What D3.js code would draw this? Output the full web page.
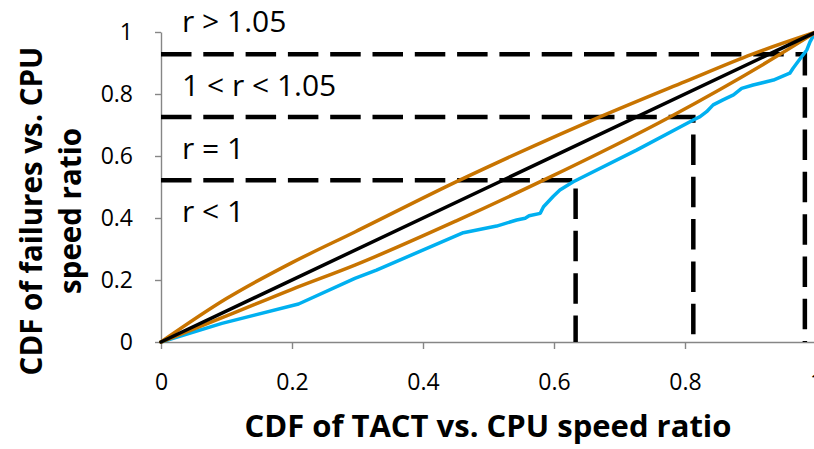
<!DOCTYPE html>
<html>
<head>
<meta charset="utf-8">
<script src="https://cdn.jsdelivr.net/npm/d3@7"></script>
<style>
  html, body { margin: 0; padding: 0; background: #fff; overflow: hidden; }
  svg { display: block; }
  text { font-family: "Open Sans", "Noto Sans", sans-serif; }
</style>
</head>
<body>
<svg id="chart" width="814" height="449"></svg>
<script>
// Tick values and labels
const tickValues = [0, 0.2, 0.4, 0.6, 0.8, 1];
const tickLabels = ["0", "0.2", "0.4", "0.6", "0.8", "1"];

// Reference diagonal (equal CDFs)
const diagonal = [[0, 0], [1, 1]];

// Upper and lower bounding curves (orange)
const upperBound = [[0, 0], [0.1, 0.14], [0.2, 0.256], [0.296, 0.355], [0.456, 0.522],
  [0.609, 0.67], [0.67, 0.726], [0.8, 0.84], [0.902, 0.928], [1, 1]];
const lowerBound = [[0, 0], [0.1, 0.084], [0.2, 0.17], [0.296, 0.248],
  [0.45, 0.39], [0.584, 0.522], [0.777, 0.726], [0.945, 0.928], [1, 1]];

// Observed CDF of failures vs. CDF of TACT (blue)
const observed = [[0, 0], [0.093, 0.06], [0.21, 0.1226], [0.296, 0.205], [0.329, 0.232],
  [0.4616, 0.3527], [0.5125, 0.374], [0.543, 0.3935], [0.556, 0.399], [0.562, 0.407],
  [0.579, 0.415], [0.584, 0.4365], [0.599, 0.47], [0.609, 0.49], [0.6295, 0.517],
  [0.726, 0.619], [0.8127, 0.716], [0.823, 0.727], [0.833, 0.743], [0.843, 0.765],
  [0.858, 0.781], [0.874, 0.797], [0.8865, 0.818], [0.904, 0.829], [0.935, 0.845],
  [0.96, 0.867], [0.965, 0.883], [0.978, 0.92], [0.986, 0.942], [0.991, 0.969],
  [0.9965, 0.99], [1, 1]];

// Threshold cut points: [x where the dashed line turns down, CDF level]
const cutX = [0.633, 0.8127, 0.983];
const cutY = [0.522, 0.726, 0.928];

// Region labels and their vertical positions
const regionLabels = ["r > 1.05", "1 < r < 1.05", "r = 1", "r < 1"];
const regionLabelY = [1.035, 0.827, 0.624, 0.423];

const svg = d3.select("#chart");
const x = d3.scaleLinear().domain([0, 1]).range([161, 816]);
const y = d3.scaleLinear().domain([0, 1]).range([342, 32]);

const axisColor = "#868686";

// Axes
const xAxis = svg.append("g")
  .attr("transform", `translate(0,${y(0)})`)
  .call(d3.axisBottom(x).tickValues(tickValues).tickSize(7).tickSizeOuter(0)
    .tickPadding(25).tickFormat((d, i) => tickLabels[i]));
const yAxis = svg.append("g")
  .attr("transform", `translate(${x(0)},0)`)
  .call(d3.axisLeft(y).tickValues(tickValues).tickSize(6).tickSizeOuter(0)
    .tickPadding(22).tickFormat((d, i) => tickLabels[i]));

[xAxis, yAxis].forEach(g => {
  g.select(".domain").attr("stroke", axisColor).attr("stroke-width", 1.4);
  g.selectAll(".tick line").attr("stroke", axisColor).attr("stroke-width", 1.4);
  g.selectAll(".tick text")
    .attr("fill", "#000")
    .style("font-family", '"Open Sans", sans-serif')
    .style("font-size", "23px");
});

const line = d3.line().x(d => x(d[0])).y(d => y(d[1]));
const smooth = d3.line().x(d => x(d[0])).y(d => y(d[1])).curve(d3.curveMonotoneX);

// Dashed threshold lines: from the y axis across, then down to the x axis
const cuts = cutX.map((cx, i) => [[0, cutY[i]], [cx, cutY[i]], [cx, 0]]);
svg.append("g").selectAll("path")
  .data(cuts)
  .join("path")
  .attr("d", line)
  .attr("fill", "none")
  .attr("stroke", "#000")
  .attr("stroke-width", 4.5)
  .attr("stroke-dasharray", "30.5,11.8");

// Curves
const curves = [
  { data: observed, color: "#00B0F0", gen: line },
  { data: lowerBound, color: "#C87400", gen: smooth },
  { data: upperBound, color: "#C87400", gen: smooth },
  { data: diagonal, color: "#000000", gen: line }
];
svg.append("g").selectAll("path")
  .data(curves)
  .join("path")
  .attr("d", d => d.gen(d.data))
  .attr("fill", "none")
  .attr("stroke", d => d.color)
  .attr("stroke-width", 3.5)
  .attr("stroke-linejoin", "round")
  .attr("stroke-linecap", "round");

// Region labels
svg.append("g").selectAll("text")
  .data(regionLabels)
  .join("text")
  .attr("x", 182)
  .attr("y", (d, i) => y(regionLabelY[i]))
  .attr("dy", "0.36em")
  .style("font-size", "30px")
  .attr("fill", "#000")
  .text(d => d);

// Axis titles
svg.append("text")
  .attr("x", 488)
  .attr("y", 437)
  .attr("text-anchor", "middle")
  .style("font-size", "31px")
  .style("font-weight", "bold")
  .text("CDF of TACT vs. CPU speed ratio");

const yTitle = ["CDF of failures vs. CPU", "speed ratio"];
svg.append("g").selectAll("text")
  .data(yTitle)
  .join("text")
  .attr("transform", (d, i) => `translate(${i === 0 ? 42 : 81},211) rotate(-90)`)
  .attr("text-anchor", "middle")
  .style("font-size", "29.5px")
  .style("font-weight", "bold")
  .text(d => d);
</script>
</body>
</html>
